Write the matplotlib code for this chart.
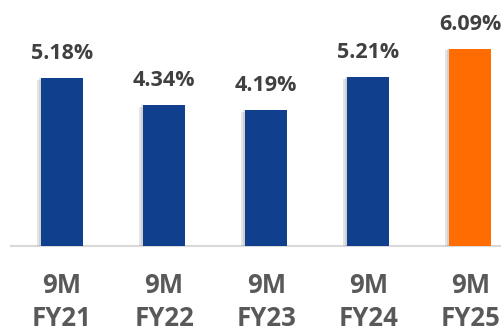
import matplotlib
matplotlib.use("Agg")
import matplotlib.pyplot as plt
import matplotlib.patheffects as pe

plt.rcParams["font.family"] = ["Open Sans", "DejaVu Sans"]

# 九个月累计数据
periods = ["9M\nFY21", "9M\nFY22", "9M\nFY23", "9M\nFY24", "9M\nFY25"]
values = [5.18, 4.34, 4.19, 5.21, 6.09]
colors = ["#103F8D", "#103F8D", "#103F8D", "#103F8D", "#FF6C02"]

W, H = 502, 336
fig = plt.figure(figsize=(W / 100, H / 100), dpi=100)
ax = fig.add_axes([11 / W, 90 / H, 491 / W, 246 / H])

x = list(range(len(values)))
shadow = [pe.SimplePatchShadow(offset=(-3, -1), shadow_rgbFace="#999999", alpha=0.25),
          pe.SimplePatchShadow(offset=(-1.5, 0), shadow_rgbFace="#999999", alpha=0.25),
          pe.Normal()]
bars = ax.bar(x, values, width=0.41, color=colors, zorder=3)
for b in bars:
    b.set_path_effects(shadow)

for xi, v in zip(x, values):
    ax.annotate(f"{v:.2f}%", (xi, v), xytext=(0, 19), textcoords="offset pixels",
                ha="center", va="baseline", fontsize=15.5, fontweight="bold", color="#404040")

ax.set_xlim(-0.5, 4.31)
ax.set_ylim(0, 246 / 32.4)
ax.set_xticks(x, periods)
ax.tick_params(axis="x", length=0, pad=19, labelsize=18.5, labelcolor="#595959")
for lbl in ax.get_xticklabels():
    lbl.set_fontweight("bold")
    lbl.set_linespacing(1.27)
ax.set_yticks([])
for s in ["top", "right", "left"]:
    ax.spines[s].set_visible(False)
ax.spines["bottom"].set_color("#D9D9D9")
ax.spines["bottom"].set_linewidth(1.5)

fig.savefig("out.png", dpi=100)
